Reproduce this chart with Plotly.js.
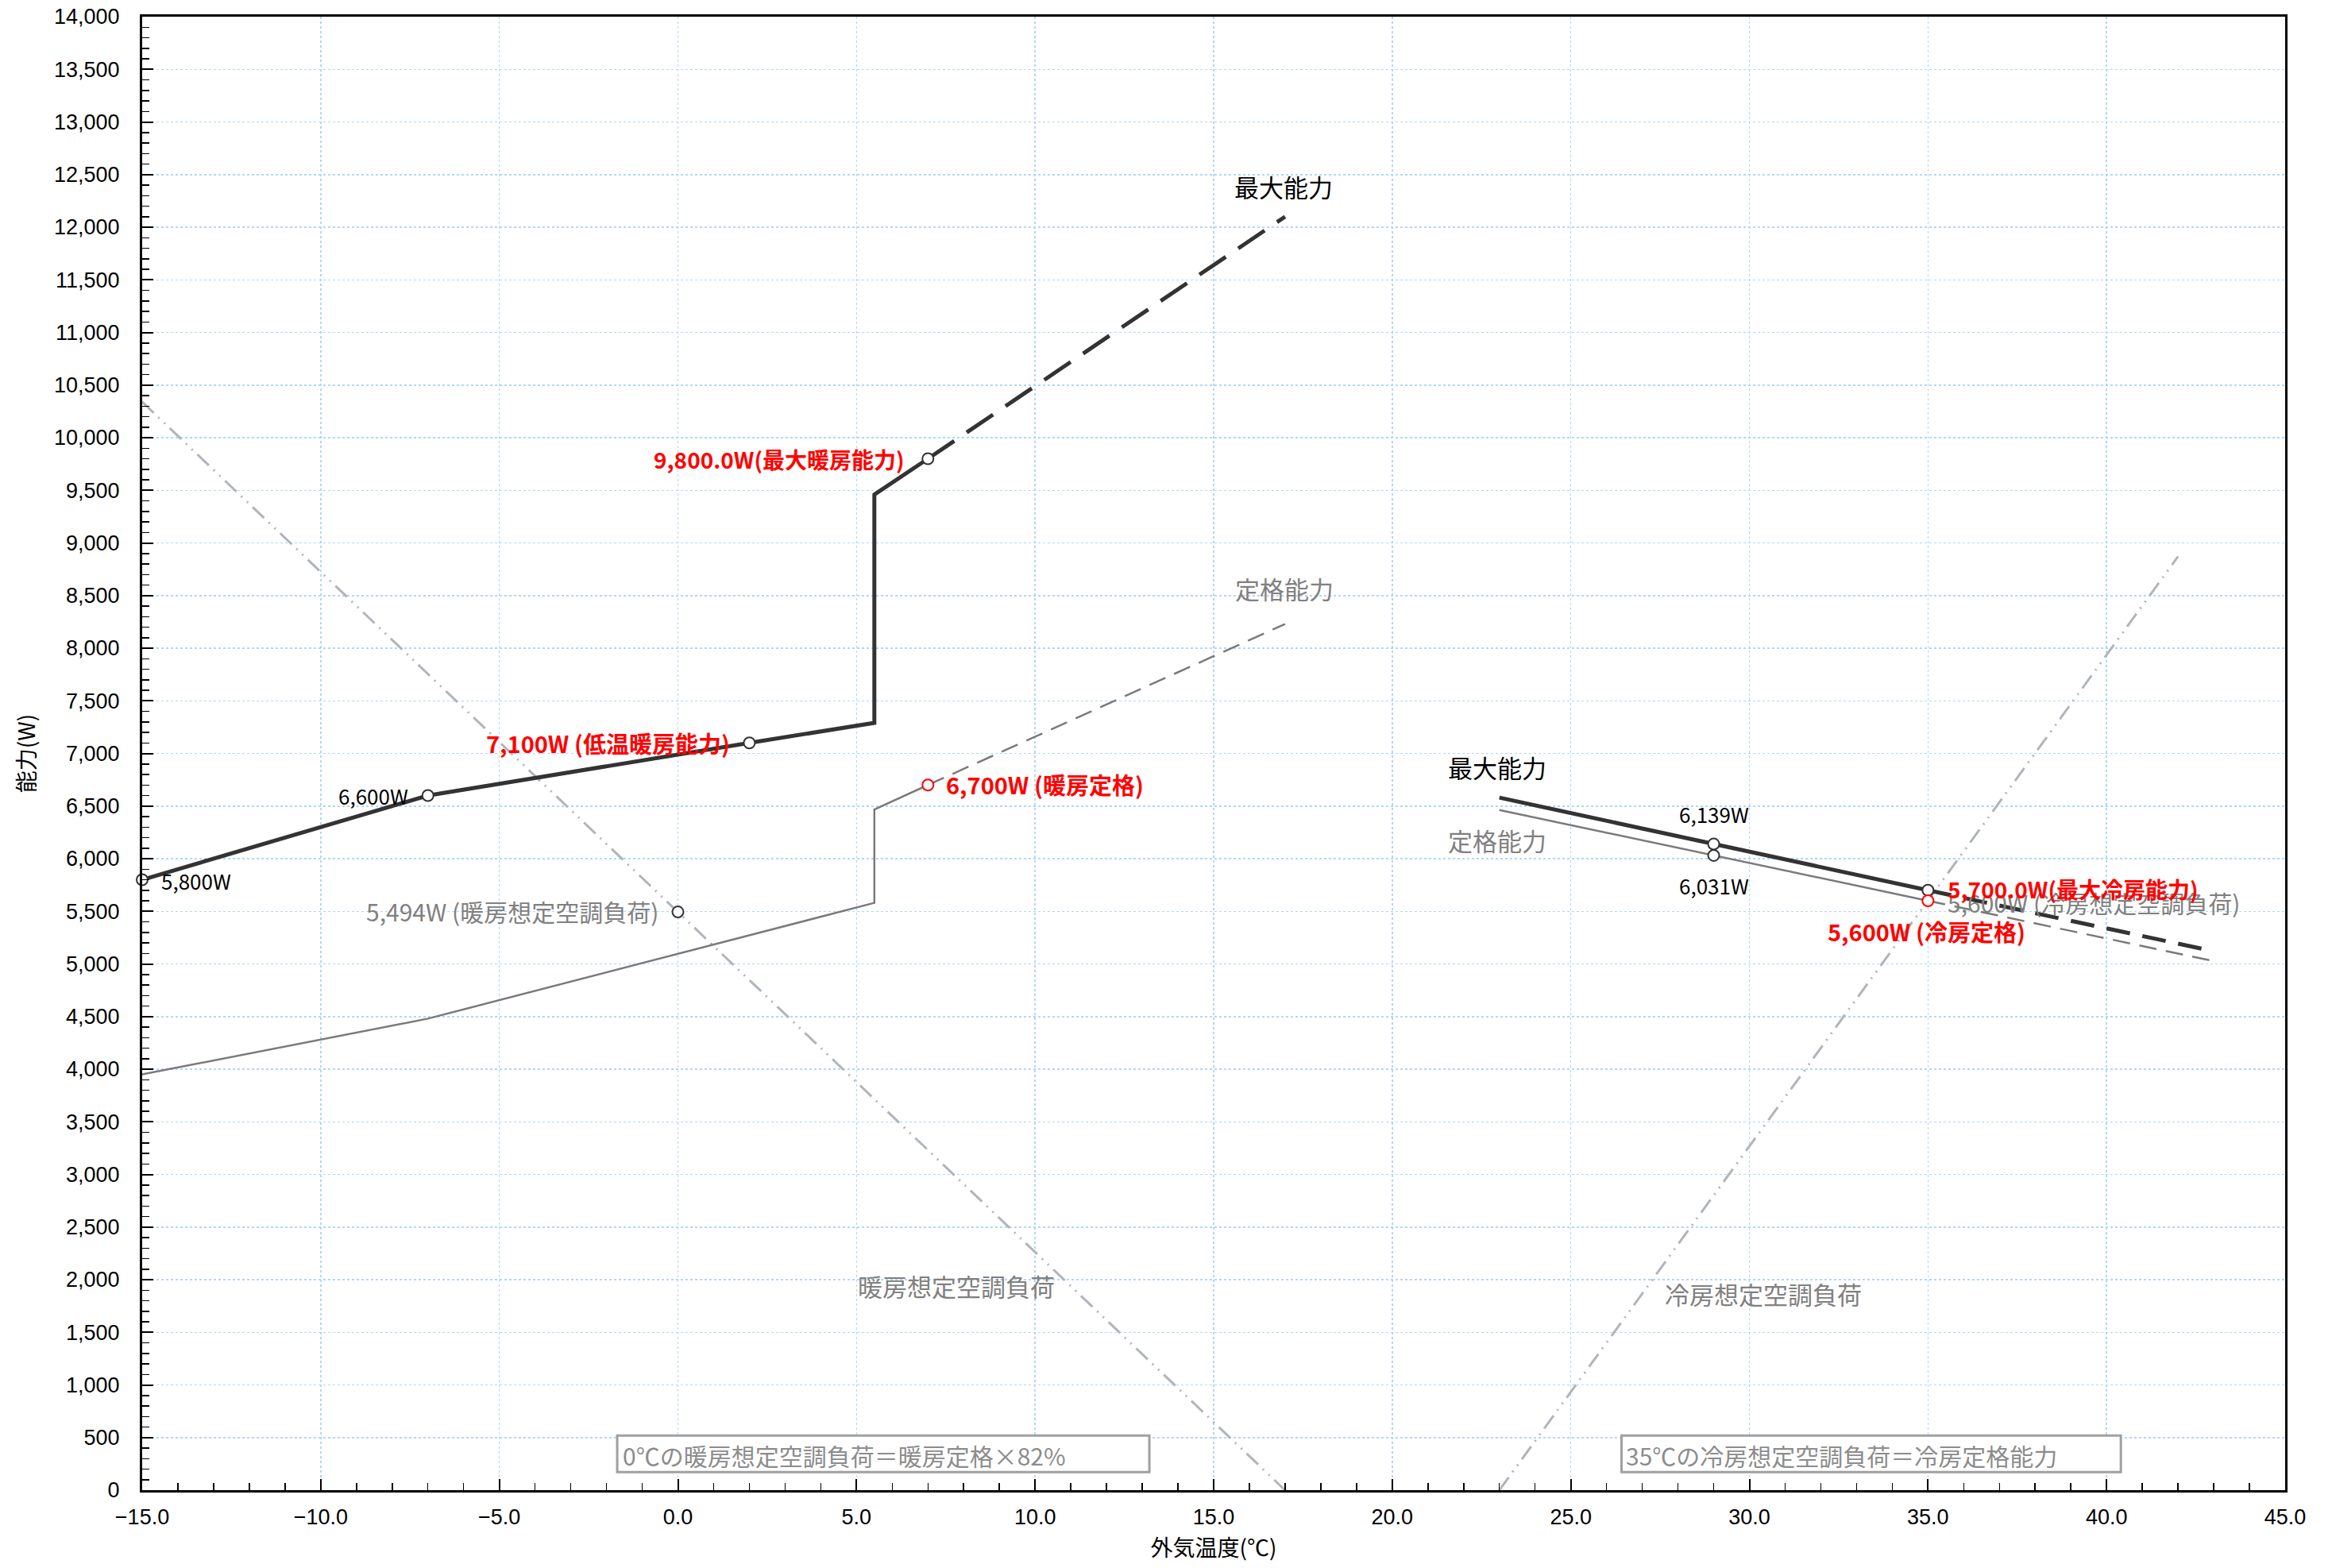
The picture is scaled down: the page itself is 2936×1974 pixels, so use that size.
<!DOCTYPE html>
<html>
<head>
<meta charset="utf-8">
<script src="https://cdn.plot.ly/plotly-3.0.1.min.js"></script>
<style>html,body{margin:0;padding:0;background:#fff;}</style>
</head>
<body>
<div id="chart" style="width:2936px;height:1974px;"></div>
<script>
// ---- data ----
const heatMaxX = [-15, -7, 2, 5.5, 5.5, 7];
const heatMaxY = [5800, 6600, 7100, 7290, 9460, 9800];
const heatMaxExtX = [7, 17];
const heatMaxExtY = [9800, 12100];

const heatRatedX = [-15, -7, 5.5, 5.5, 7];
const heatRatedY = [3950, 4480, 5580, 6467, 6700];
const heatRatedExtX = [7, 17];
const heatRatedExtY = [6700, 8230];

const heatLoadX = [-15, 0, 17];
const heatLoadY = [10340, 5494, 0];

const coolMaxX = [23, 29, 35];
const coolMaxY = [6580, 6139, 5700];
const coolMaxExtX = [35, 43];
const coolMaxExtY = [5700, 5120];

const coolRatedX = [23, 29, 35];
const coolRatedY = [6462, 6031, 5600];
const coolRatedExtX = [35, 43];
const coolRatedExtY = [5600, 5027];

const coolLoadX = [23, 35, 42];
const coolLoadY = [0, 5600, 8870];

const darkPtsX = [-15, -7, 2, 7, 0, 29, 29, 35];
const darkPtsY = [5800, 6600, 7100, 9800, 5494, 6139, 6031, 5700];
const redPtsX = [7, 35];
const redPtsY = [6700, 5600];

const xTitle = '外気温度(℃)';
const yTitle = '能力(W)';

// ---- styles ----
const DARK = '#333333', GRAY = '#7a7a7a', LOAD = '#b0b4bc', TGRAY = '#808080', RED = '#ff0000';
const JP = '"Noto Sans CJK JP", "Noto Sans", sans-serif';
const LAT = '"Liberation Sans", Arial, sans-serif';
const loadDash = '20px,8px,2px,8px,2px,8px';

const traces = [
  {x: heatLoadX, y: heatLoadY, mode: 'lines', line: {color: LOAD, width: 3, dash: loadDash}},
  {x: coolLoadX, y: coolLoadY, mode: 'lines', line: {color: LOAD, width: 3, dash: loadDash}},
  {x: heatRatedX, y: heatRatedY, mode: 'lines', line: {color: GRAY, width: 2.5}},
  {x: heatRatedExtX, y: heatRatedExtY, mode: 'lines', line: {color: GRAY, width: 2.5, dash: '22px,12px'}},
  {x: coolRatedX, y: coolRatedY, mode: 'lines', line: {color: GRAY, width: 2.5}},
  {x: coolRatedExtX, y: coolRatedExtY, mode: 'lines', line: {color: GRAY, width: 2.5, dash: '22px,12px'}},
  {x: heatMaxX, y: heatMaxY, mode: 'lines', line: {color: DARK, width: 5}},
  {x: heatMaxExtX, y: heatMaxExtY, mode: 'lines', line: {color: DARK, width: 5, dash: '40px,19px'}},
  {x: coolMaxX, y: coolMaxY, mode: 'lines', line: {color: DARK, width: 5}},
  {x: coolMaxExtX, y: coolMaxExtY, mode: 'lines', line: {color: DARK, width: 5, dash: '30px,16px'}},
  {x: darkPtsX, y: darkPtsY, mode: 'markers', marker: {symbol: 'circle', size: 14, color: '#ffffff', line: {color: DARK, width: 2}}},
  {x: redPtsX, y: redPtsY, mode: 'markers', marker: {symbol: 'circle', size: 14, color: '#ffffff', line: {color: RED, width: 2}}}
].map(t => Object.assign({type: 'scatter', hoverinfo: 'skip', showlegend: false, cliponaxis: false}, t));

function ann(x, y, text, opts) {
  return Object.assign({x: x, y: y, xref: 'x', yref: 'y', text: text, showarrow: false,
    xanchor: 'center', yanchor: 'middle', font: {family: JP, size: 30, color: '#000'}}, opts || {});
}
const annotations = [
  ann(16.96, 12390, '最大能力', {font: {family: JP, size: 31, color: '#000'}}),
  ann(16.97, 8570, '定格能力', {font: {family: JP, size: 31, color: TGRAY}}),
  ann(6.4, 9800, '<b>9,800.0W(最大暖房能力)</b>', {xanchor: 'right', font: {family: JP, size: 28, color: RED}}),
  ann(7.45, 6710, '<b>6,700W (暖房定格)</b>', {xanchor: 'left', font: {family: JP, size: 29, color: RED}}),
  ann(1.5, 7105, '<b>7,100W (低温暖房能力)</b>', {xanchor: 'right', font: {family: JP, size: 29, color: RED}}),
  ann(-7.5, 6600, '6,600W', {xanchor: 'right', font: {family: JP, size: 26, color: '#000'}}),
  ann(-14.5, 5795, '5,800W', {xanchor: 'left', font: {family: JP, size: 26, color: '#000'}}),
  ann(-0.5, 5505, '5,494W (暖房想定空調負荷)', {xanchor: 'right', font: {family: JP, size: 30, color: TGRAY}}),
  ann(7.8, 1945, '暖房想定空調負荷', {font: {family: JP, size: 31, color: TGRAY}}),
  ann(30.4, 1870, '冷房想定空調負荷', {font: {family: JP, size: 31, color: TGRAY}}),
  ann(22.94, 6875, '最大能力', {font: {family: JP, size: 31, color: '#000'}}),
  ann(22.94, 6180, '定格能力', {font: {family: JP, size: 31, color: TGRAY}}),
  ann(29, 6425, '6,139W', {font: {family: JP, size: 26, color: '#000'}}),
  ann(29, 5745, '6,031W', {font: {family: JP, size: 26, color: '#000'}}),
  ann(35.5, 5585, '5,600W (冷房想定空調負荷)', {xanchor: 'left', font: {family: JP, size: 30, color: TGRAY}}),
  ann(35.5, 5712, '<b>5,700.0W(最大冷房能力)</b>', {xanchor: 'left', font: {family: JP, size: 28, color: RED}}),
  ann(34.96, 5315, '<b>5,600W (冷房定格)</b>', {font: {family: JP, size: 29, color: RED}}),
  ann(-1.6, 335, '0℃の暖房想定空調負荷＝暖房定格×82%', {xanchor: 'left', font: {family: JP, size: 30, color: '#8c8c8c'}}),
  ann(26.5, 335, '35℃の冷房想定空調負荷＝冷房定格能力', {xanchor: 'left', font: {family: JP, size: 30, color: '#8c8c8c'}})
];

const shapes = [
  {type: 'rect', xref: 'x', yref: 'y', x0: -1.7, x1: 13.2, y0: 171, y1: 519, layer: 'above',
   fillcolor: '#ffffff', line: {color: '#a0a0a0', width: 3}},
  {type: 'rect', xref: 'x', yref: 'y', x0: 26.42, x1: 40.4, y0: 171, y1: 519, layer: 'above',
   fillcolor: '#ffffff', line: {color: '#a0a0a0', width: 3}}
];

const GRID = '#b3d6f7';
const layout = {
  width: 2936, height: 1974,
  margin: {l: 179, r: 59, t: 21, b: 98, pad: 0},
  paper_bgcolor: '#ffffff', plot_bgcolor: '#ffffff',
  showlegend: false,
  xaxis: {
    range: [-15, 45], dtick: 5, tick0: -15, tickformat: '.1f',
    showline: true, linecolor: '#000', linewidth: 3, mirror: true,
    ticks: 'inside', ticklen: 14, tickwidth: 2, tickcolor: '#000',
    minor: {dtick: 1, ticks: 'inside', ticklen: 9, tickwidth: 1.5, tickcolor: '#000', showgrid: false},
    showgrid: true, gridcolor: GRID, gridwidth: 1.5, griddash: 'dot',
    zeroline: false,
    tickfont: {family: LAT, size: 27, color: '#000'},
    ticklabelstandoff: 8,
    title: {text: xTitle, font: {family: JP, size: 28, color: '#000'}, standoff: 16}
  },
  yaxis: {
    range: [0, 14000], dtick: 500, tick0: 0, tickformat: ',d',
    showline: true, linecolor: '#000', linewidth: 3, mirror: true,
    ticks: 'inside', ticklen: 14, tickwidth: 2, tickcolor: '#000',
    minor: {dtick: 100, ticks: 'inside', ticklen: 9, tickwidth: 1.5, tickcolor: '#000', showgrid: false},
    showgrid: true, gridcolor: GRID, gridwidth: 1.5, griddash: 'dot',
    zeroline: false,
    tickfont: {family: LAT, size: 27, color: '#000'},
    ticklabelstandoff: 20,
    title: {text: yTitle, font: {family: JP, size: 28, color: '#000'}, standoff: 16}
  },
  annotations: annotations,
  shapes: shapes
};

Plotly.newPlot('chart', traces, layout, {staticPlot: true, displayModeBar: false});
</script>
</body>
</html>
